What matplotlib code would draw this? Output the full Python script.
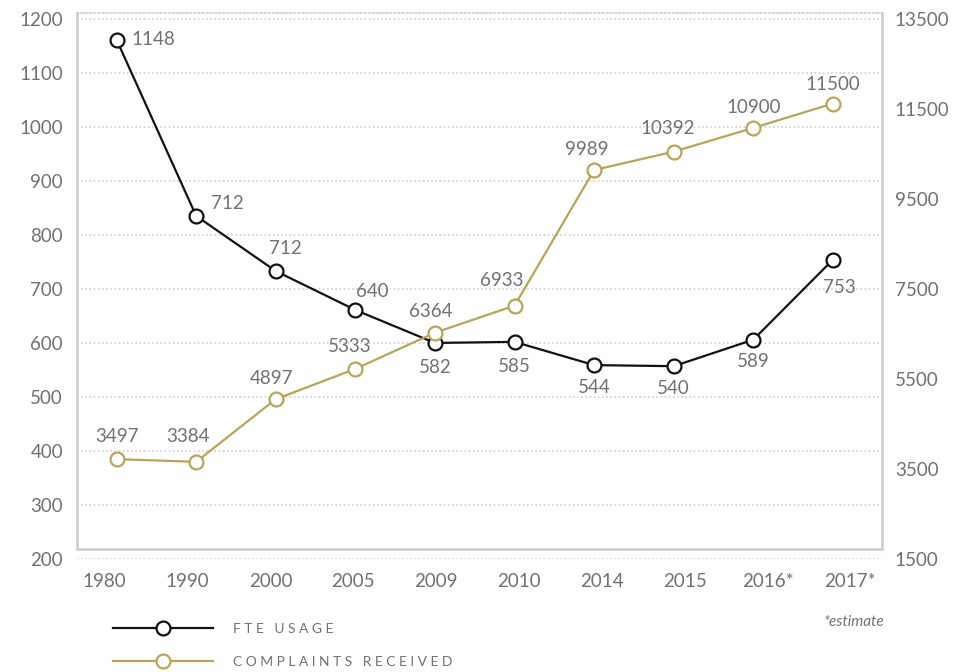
import matplotlib.pyplot as plt
import numpy as np
from matplotlib.lines import Line2D

plt.rcParams['font.family'] = ['Lato', 'DejaVu Sans']

years = ['1980', '1990', '2000', '2005', '2009', '2010', '2014', '2015', '2016*', '2017*']

# where the points sit on each axis
fte = [1161, 835, 733, 661, 600, 602, 559, 557, 606, 754]
complaints = [3720, 3660, 5052, 5724, 6528, 7128, 10140, 10548, 11076, 11616]

# the numbers printed next to the points
fte_labels = ['1148', '712', '712', '640', '582', '585', '544', '540', '589', '753']
complaint_labels = ['3497', '3384', '4897', '5333', '6364', '6933', '9989', '10392', '10900', '11500']

left_ticks = [200, 300, 400, 500, 600, 700, 800, 900, 1000, 1100, 1200]
right_ticks = [1500, 3500, 5500, 7500, 9500, 11500, 13500]

black = '#111111'
gold = '#b8a45a'
text_gray = '#717171'
frame_gray = '#cfcfcf'

# label offsets in points (dx, dy, ha)
fte_off = [(11, 0, 'left'), (11, 9, 'left'), (7, 16, 'center'), (12, 13, 'center'),
           (0, -18, 'center'), (0, -18, 'center'), (0, -16, 'center'), (0, -16, 'center'),
           (0, -16, 'center'), (5, -20, 'center')]
comp_off = [(0, 16, 'center'), (-6, 18, 'center'), (-3, 15, 'center'), (-4, 16, 'center'),
            (-3, 15, 'center'), (-9, 18, 'center'), (-5, 15, 'center'), (-4, 17, 'center'),
            (0, 15, 'center'), (0, 14, 'center')]

fs = 13.5

fig = plt.figure(figsize=(9.6, 6.72), dpi=100)
ax = fig.add_axes([0.080, 0.168, 0.839, 0.813])
ax2 = ax.twinx()

x = np.arange(len(years))

ax.plot(x, fte, color=black, lw=1.6, marker='o', ms=10, mfc='white',
        mec=black, mew=1.6, zorder=4)
ax2.plot(x, complaints, color=gold, lw=1.6, marker='o', ms=10, mfc='white',
         mec=gold, mew=1.6, zorder=3)

for i in range(len(years)):
    dx, dy, ha = fte_off[i]
    ax.annotate(fte_labels[i], (x[i], fte[i]), xytext=(dx, dy), textcoords='offset points',
                ha=ha, va='center', fontsize=fs, color=text_gray)
    dx, dy, ha = comp_off[i]
    ax2.annotate(complaint_labels[i], (x[i], complaints[i]), xytext=(dx, dy),
                 textcoords='offset points', ha=ha, va='center', fontsize=fs, color=text_gray)

ax.set_xlim(-0.5, 9.62)
ax.set_ylim(200, 1211)
ax2.set_ylim(1500, 1500 + 1011 * 12)

ax.set_yticks(left_ticks)
ax2.set_yticks(right_ticks)
ax.set_xticks(np.linspace(-0.15, 9.22, len(years)))
ax.set_xticklabels(years)

for a in (ax, ax2):
    a.tick_params(length=0, labelsize=fs, labelcolor=text_gray)
    for s in a.spines.values():
        s.set_visible(False)
ax.tick_params(axis='y', pad=10)
ax2.tick_params(axis='y', pad=9)
ax.tick_params(axis='x', pad=17)

ax.yaxis.grid(True, linestyle=(0, (1, 1.5)), color=frame_gray, lw=1.2)
ax.set_axisbelow(True)

# frame: the bottom line sits a little above the 200 tick
for side in ('left', 'right', 'bottom'):
    ax.spines[side].set_visible(True)
    ax.spines[side].set_color(frame_gray)
    ax.spines[side].set_linewidth(2)
ax.spines['bottom'].set_position(('outward', -7.2))
ax.spines['left'].set_bounds(218.5, 1211)
ax.spines['right'].set_bounds(218.5, 1211)
ax.spines['top'].set_visible(True)
ax.spines['top'].set_color(frame_gray)
ax.spines['top'].set_linestyle((0, (1, 1.5)))
ax.spines['top'].set_linewidth(1.2)

handles = [
    Line2D([], [], color=black, lw=1.6, marker='o', ms=10, mfc='white', mec=black, mew=1.6),
    Line2D([], [], color=gold, lw=1.6, marker='o', ms=10, mfc='white', mec=gold, mew=1.6),
]
leg = fig.legend(handles, ['F T E   U S A G E', 'C O M P L A I N T S   R E C E I V E D'],
                 loc='upper left', bbox_to_anchor=(0.1119, 0.081), frameon=False,
                 handlelength=7.2, handletextpad=1.44, labelspacing=1.5, fontsize=10,
                 borderaxespad=0)
for t in leg.get_texts():
    t.set_color(text_gray)

fig.text(0.921, 0.074, '*estimate', ha='right', va='center', fontsize=11,
         style='italic', color=text_gray)

fig.savefig('out.png', dpi=100)
